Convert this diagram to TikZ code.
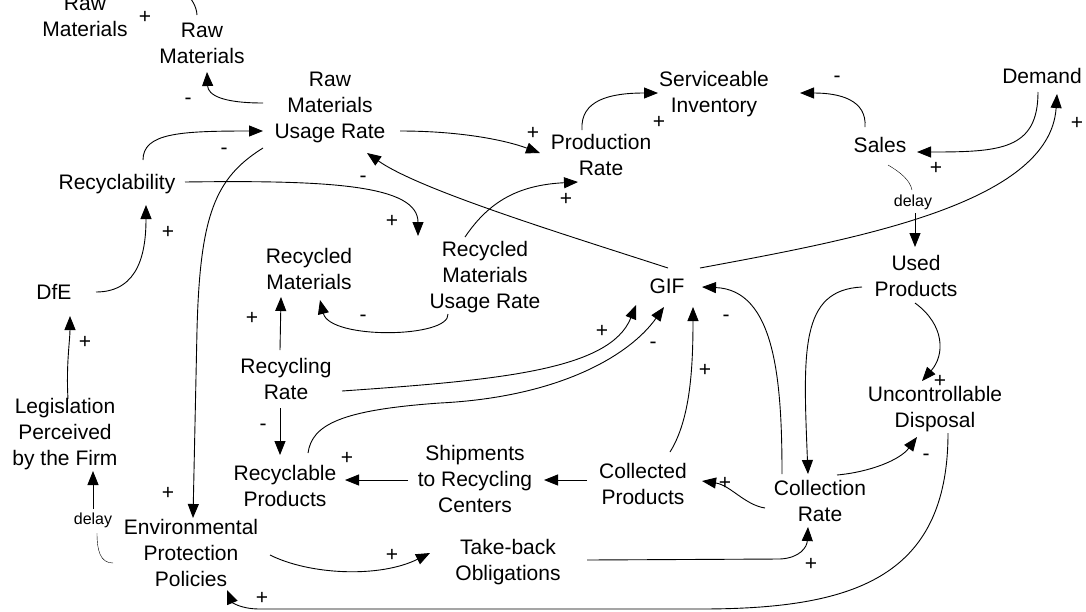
\documentclass[tikz,border=0pt]{standalone}
\usepackage{fontspec}
\setmainfont{Liberation Sans}
\usepackage{tikz}
\usetikzlibrary{arrows.meta,calc}

\begin{document}
\begin{tikzpicture}[x=1pt, y=-1pt,
    var/.style = {align=center, inner xsep=10pt, inner ysep=6pt, font=\fontsize{21}{26}\selectfont},
    sign/.style = {inner sep=0pt, text height=12pt, text depth=0pt, font=\fontsize{21}{26}\selectfont},
    lag/.style = {inner sep=2pt, font=\fontsize{16}{18}\selectfont},
    link/.style = {line width=0.9pt, -{Triangle[length=14pt,width=11pt]}}]
	\useasboundingbox (0,0) rectangle (1086,611);
	% variables
	\node[var] (rawA) at (85,16) {Raw\\Materials};
	\node[var] (rawB) at (202,43) {Raw\\Materials};
	\node[var] (rmur) at (330,107) {Raw\\Materials\\Usage Rate};
	\node[var] (prod) at (601,155) {Production\\Rate};
	\node[var] (serv) at (714,94) {Serviceable\\Inventory};
	\node[var] (sales) at (880,145) {Sales};
	\node[var] (demand) at (1042,76) {Demand};
	\node[var] (recyc) at (117,184) {Recyclability};
	\node[var] (dfe) at (54,292) {DfE};
	\node[var] (legis) at (65,434) {Legislation\\Perceived\\by the Firm};
	\node[var] (recmat) at (309,269) {Recycled\\Materials};
	\node[var] (rmur2) at (485,277) {Recycled\\Materials\\Usage Rate};
	\node[var] (gif) at (667,286) {GIF};
	\node[var] (used) at (916,276) {Used\\Products};
	\node[var] (uncd) at (935,409) {Uncontrollable\\Disposal};
	\node[var] (recr) at (286,379) {Recycling\\Rate};
	\node[var] (recp) at (285,486) {Recyclable\\Products};
	\node[var] (ship) at (475,479) {Shipments\\to Recycling\\Centers};
	\node[var] (coll) at (643,484) {Collected\\Products};
	\node[var] (colr) at (820,501) {Collection\\Rate};
	\node[var] (take) at (508,562) {Take-back\\Obligations};
	\node[var] (epp) at (191,553) {Environmental\\Protection\\Policies};
	% delay marks
	\node[lag] (dly1) at (913,202) {delay};
	\node[lag] (dly2) at (93,520) {delay};

	% links, top part
	\draw[link] ($(rawB)+(-5,-28)$) .. controls (195,-20) and (125,-38) .. ($(rawA)+(15,-24)$);
	\draw[link] ($(rmur)+(-67,-4)$) .. controls (222,103) and (208,95) .. ($(rawB)+(5,29)$);
	\draw[link] ($(recyc)+(26,-24)$) .. controls (143,133) and (180,131) .. ($(rmur)+(-67,24)$);
	\draw[link] ($(rmur)+(-67,41)$) .. controls (215,178) and (200,215) .. (197,330) -- ($(epp)+(2,-35)$);
	\draw[link] ($(rmur)+(70,24)$) .. controls (460,131) and (505,140) .. ($(prod)+(-61,-2)$);
	\draw[link] ($(prod)+(-19,-25)$) .. controls (580,100) and (610,93) .. ($(serv)+(-56,-1)$);
	\draw[link] ($(sales)+(-15,-18)$) .. controls (867,100) and (840,93) .. ($(serv)+(86,-1)$);
	\draw[link] ($(demand)+(-4,16)$) .. controls (1038,150) and (1000,152) .. ($(sales)+(37,7)$);
	\draw[link] ($(gif)+(33,-18)$) .. controls (850,240) and (1050,205) .. ($(demand)+(15,18)$);
	\draw[link] ($(gif)+(1,-18)$) .. controls (560,233) and (420,190) .. ($(rmur)+(37,46)$);
	\draw[link] ($(rmur2)+(-20,-40)$) .. controls (490,200) and (520,185) .. ($(prod)+(-23,27)$);
	\draw[link] ($(recyc)+(68,-2)$) .. controls (330,180) and (418,185) .. ($(rmur2)+(-67,-41)$);
	\draw[link] ($(dfe)+(42,0)$) .. controls (140,292) and (146,250) .. ($(recyc)+(29,21)$);
	\draw[link] ($(legis)+(3,-35)$) .. controls (66,365) and (70,340) .. ($(dfe)+(16,24)$);
	\draw ($(epp)+(-78,10)$) .. controls (100,563) and (97,550) .. ($(dly2)+(4,13)$);
	\draw[link] ($(dly2)+(0,-11)$) -- ($(legis)+(28,37)$);
	\draw ($(sales)+(8,20)$) .. controls (900,172) and (910,180) .. ($(dly1)+(-1,-12)$);
	\draw[link] ($(dly1)+(2,11)$) -- ($(used)+(-1,-29)$);

	% links, middle part
	\draw[link] ($(recr)+(-6,-29)$) -- ($(recmat)+(-28,28)$);
	\draw[link] ($(rmur2)+(-37,37)$) .. controls (450,338) and (330,340) .. ($(recmat)+(11,31)$);
	\draw[link] ($(recr)+(56,12)$) .. controls (500,380) and (610,370) .. ($(gif)+(-31,19)$);
	\draw[link] ($(recp)+(23,-33)$) .. controls (312,425) and (340,410) .. (440,403)
		.. controls (560,397) and (630,355) .. ($(gif)+(-3,21)$);
	\draw[link] ($(coll)+(27,-32)$) .. controls (690,420) and (693,370) .. ($(gif)+(26,21)$);
	\draw[link] ($(colr)+(-38,-27)$) .. controls (782,380) and (775,290) .. ($(gif)+(35,1)$);
	\draw[link] ($(used)+(-54,11)$) .. controls (800,290) and (803,350) .. ($(colr)+(-12,-27)$);
	\draw[link] ($(used)+(-1,27)$) .. controls (945,325) and (945,355) .. ($(uncd)+(-13,-28)$);
	\draw[link] ($(recr)+(-6,29)$) -- ($(recp)+(-5,-31)$);

	% links, bottom part
	\draw[link] ($(colr)+(17,-26)$) .. controls (870,472) and (900,460) .. ($(uncd)+(-18,28)$);
	\draw[link] ($(uncd)+(13,24)$) .. controls (948,580) and (850,609) .. (700,609) -- (260,609)
		.. controls (240,609) and (232,602) .. ($(epp)+(36,37)$);
	\draw[link] ($(epp)+(79,2)$) .. controls (310,575) and (380,578) .. ($(take)+(-78,-9)$);
	\draw[link] ($(take)+(79,-2)$) -- (780,559) .. controls (800,558) and (807,547) .. ($(colr)+(-12,26)$);
	\draw[link] ($(colr)+(-55,7)$) .. controls (745,505) and (730,485) .. ($(coll)+(59,-3)$);
	\draw[link] ($(coll)+(-56,-4)$) -- ($(ship)+(69,1)$);
	\draw[link] ($(ship)+(-67,1)$) -- ($(recp)+(60,-6)$);

	% polarities
	\foreach \x/\y/\s [count=\i] in {145/17/+, 188/98/-, 224/148/-, 533/133/+, 659/122/+,
		837/76/-, 936/168/+, 1077/123/+, 363/176/-, 566/199/+, 168/232/+, 392/221/+,
		85/342/+, 252/318/+, 363/315/-, 602/331/+, 653/342/-, 705/370/+, 726/315/-,
		940/381/+, 263/424/-, 168/493/+, 347/458/+, 725/483/+, 926/454/-, 811/564/+,
		392/555/+, 262/598/+}
		\node[sign] (pol\i) at (\x,\y) {\s};
\end{tikzpicture}
\end{document}
